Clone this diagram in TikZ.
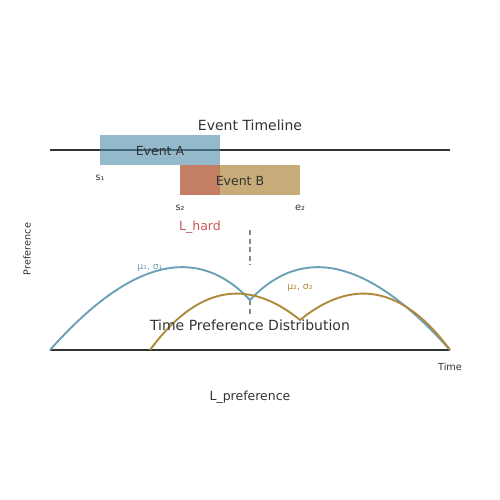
\documentclass[tikz,border=0pt]{standalone}
\usepackage{fontspec}
\setmainfont{DejaVu Sans}
\usetikzlibrary{calc}
\definecolor{ink}{HTML}{333333}
\definecolor{evA}{HTML}{4B8AA8}
\definecolor{evB}{HTML}{C4A772}
\definecolor{ovl}{HTML}{C47A62}
\definecolor{hardred}{HTML}{CC5555}
\definecolor{bluec}{HTML}{6AA0B8}
\definecolor{goldc}{HTML}{B0883A}
\definecolor{dashg}{HTML}{888888}
\tikzset{
  axisline/.style={draw=ink, line width=2pt},
  title/.style={text=ink, font=\fontsize{14}{16}\selectfont, inner sep=0pt},
  mid/.style={text=ink, font=\fontsize{12.5}{14}\selectfont, inner sep=0pt},
  small/.style={text=ink, font=\fontsize{9.7}{11}\selectfont, inner sep=0pt},
  curveb/.style={draw=bluec, line width=1.9pt},
  curveg/.style={draw=goldc, line width=1.9pt},
  guide/.style={draw=dashg, line width=1.6pt, dash pattern=on 5pt off 3.5pt}
}
\begin{document}
\begin{tikzpicture}[x=1pt,y=-1pt]
\useasboundingbox (0,0) rectangle (500,500);
% timeline
\coordinate (tl0) at (50,150);
\coordinate (tl1) at (450,150);
\draw[axisline] (tl0) -- (tl1);
\node[title] (ttitle) at (250,125.5) {Event Timeline};
% e1 label (partly hidden by boxes, as in the reference)
\node[small] (e1) at (220,177.5) {e₁};
% boxes
\fill[evA, opacity=0.6] (100,135) rectangle (220,165);
\fill[evB, opacity=0.95] (180,165) rectangle (300,195);
\fill[ovl, opacity=0.92] (180,165) rectangle (220,195);
\node[mid] (evAt) at (160,151.5) {Event A};
\node[mid] (evBt) at (240,181.5) {Event B};
\node[small] (s1) at (100,177.5) {s₁};
\node[small] (s2) at (180,207.5) {s₂};
\node[small] (e2) at (300,207.5) {e₂};
\node[mid, text=hardred] (lhard) at (200,227) {L\_hard};
% dashed guide
\coordinate (g0) at (250,230);
\coordinate (g1) at (250,265);
\coordinate (g2) at (250,300);
\coordinate (g3) at (250,315);
\draw[guide] (g0) -- (g1);
\draw[guide] (g2) -- (g3);
% preference axis
\coordinate (ax0) at (50,350);
\coordinate (ax1) at (450,350);
\draw[axisline] (ax0) -- (ax1);
% curves
\draw[curveb, line join=miter] (50,350) .. controls (130,260) and (196.67,243.33) .. (250,300)
   .. controls (303.33,243.33) and (370,260) .. (450,350);
\draw[curveg, line join=miter] (150,350) .. controls (196.67,286.67) and (246.67,276.67) .. (300,320)
   .. controls (353.33,276.67) and (403.33,286.67) .. (450,350);
\node[small, text=bluec, font=\fontsize{9.3}{11}\selectfont] (mu1) at (150,268) {μ₁, σ₁};
\node[small, text=goldc, font=\fontsize{9.3}{11}\selectfont] (mu2) at (300,288) {μ₂, σ₂};
\node[title] (ptitle) at (250,325.5) {Time Preference Distribution};
\node[small] (time) at (450,367) {Time};
\node[small, rotate=90] (pref) at (27,249) {Preference};
\node[mid] (lpref) at (250,397) {L\_preference};
\end{tikzpicture}
\end{document}
